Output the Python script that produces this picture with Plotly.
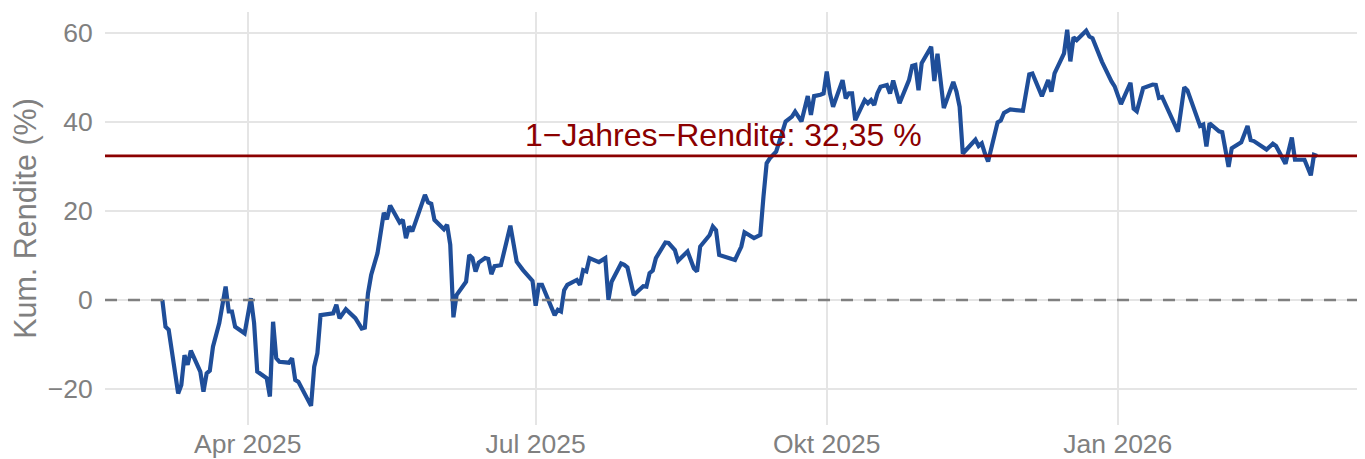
import plotly.graph_objects as go

# ---- data ----
dates = [
    "2025-03-05","2025-03-06","2025-03-07","2025-03-10","2025-03-11","2025-03-12","2025-03-13","2025-03-14",
    "2025-03-17","2025-03-18","2025-03-19","2025-03-20","2025-03-21","2025-03-23","2025-03-25","2025-03-26",
    "2025-03-27","2025-03-28","2025-03-31",
    "2025-04-01","2025-04-02","2025-04-03","2025-04-04","2025-04-07","2025-04-08","2025-04-09","2025-04-10",
    "2025-04-11","2025-04-14","2025-04-15","2025-04-16","2025-04-17","2025-04-21","2025-04-22","2025-04-23",
    "2025-04-24","2025-04-27","2025-04-28","2025-04-29","2025-04-30",
    "2025-05-02","2025-05-05","2025-05-07","2025-05-08","2025-05-09","2025-05-10","2025-05-12","2025-05-14",
    "2025-05-15","2025-05-16","2025-05-19","2025-05-20","2025-05-21","2025-05-22","2025-05-23","2025-05-27",
    "2025-05-28","2025-05-29","2025-05-30",
    "2025-06-02","2025-06-03","2025-06-04","2025-06-05","2025-06-06","2025-06-09","2025-06-10","2025-06-11",
    "2025-06-12","2025-06-13","2025-06-15","2025-06-16","2025-06-17","2025-06-18","2025-06-20","2025-06-23",
    "2025-06-25","2025-06-27","2025-06-30",
    "2025-07-01","2025-07-02","2025-07-03","2025-07-05","2025-07-07","2025-07-08","2025-07-09","2025-07-10",
    "2025-07-11","2025-07-14","2025-07-15","2025-07-16","2025-07-17","2025-07-18","2025-07-21","2025-07-23",
    "2025-07-24","2025-07-25","2025-07-28","2025-07-29","2025-07-30",
    "2025-08-01","2025-08-04","2025-08-05","2025-08-06","2025-08-07","2025-08-08","2025-08-11","2025-08-12",
    "2025-08-14","2025-08-15","2025-08-18","2025-08-20","2025-08-21","2025-08-22","2025-08-25","2025-08-26",
    "2025-08-27","2025-08-28",
    "2025-09-01","2025-09-02","2025-09-04","2025-09-05","2025-09-08","2025-09-10","2025-09-11","2025-09-12",
    "2025-09-13","2025-09-15","2025-09-16","2025-09-17","2025-09-18","2025-09-20","2025-09-21","2025-09-23",
    "2025-09-24","2025-09-25","2025-09-26","2025-09-27","2025-09-29","2025-09-30",
    "2025-10-01","2025-10-02","2025-10-03","2025-10-06","2025-10-07","2025-10-08","2025-10-09","2025-10-10",
    "2025-10-13","2025-10-14","2025-10-15","2025-10-16","2025-10-17","2025-10-18","2025-10-20","2025-10-21",
    "2025-10-22","2025-10-24","2025-10-27","2025-10-28","2025-10-29","2025-10-30","2025-10-31",
    "2025-11-03","2025-11-04","2025-11-05","2025-11-07","2025-11-10","2025-11-11","2025-11-12","2025-11-13",
    "2025-11-15","2025-11-17","2025-11-18","2025-11-19","2025-11-20","2025-11-21","2025-11-24","2025-11-25",
    "2025-11-26","2025-11-28",
    "2025-12-02","2025-12-03","2025-12-04","2025-12-05","2025-12-08","2025-12-10","2025-12-11","2025-12-12",
    "2025-12-15","2025-12-16","2025-12-17","2025-12-18","2025-12-19","2025-12-22","2025-12-23","2025-12-24",
    "2025-12-27","2025-12-30","2025-12-31",
    "2026-01-02","2026-01-05","2026-01-06","2026-01-07","2026-01-09","2026-01-12","2026-01-13","2026-01-14",
    "2026-01-15","2026-01-20","2026-01-22","2026-01-23","2026-01-27","2026-01-28","2026-01-29","2026-01-30",
    "2026-02-02","2026-02-03","2026-02-05","2026-02-06","2026-02-09","2026-02-11","2026-02-12","2026-02-13",
    "2026-02-17","2026-02-19","2026-02-20","2026-02-23","2026-02-25","2026-02-26",
    "2026-03-01","2026-03-03","2026-03-04","2026-03-05",
]
cum_return = [
    0.0, -6.0, -6.7, -21.0, -19.1, -12.4, -14.6, -11.4,
    -16.1, -20.6, -16.5, -15.9, -10.5, -5.2, 3.0, -2.6,
    -2.6, -6.0, -7.5,
    -3.7, 0.4, -5.2, -16.1, -17.6, -21.7, -4.9, -13.1,
    -13.9, -14.1, -13.1, -18.0, -18.4, -23.8, -15.0, -12.0,
    -3.4, -3.2, -3.0, -1.1, -4.1,
    -2.1, -4.1, -6.4, -6.2, 1.5, 5.6, 10.5, 19.6,
    18.1, 21.2, 17.4, 18.0, 13.9, 16.5, 15.4, 23.6,
    21.9, 21.6, 18.0,
    15.9, 16.9, 12.4, -3.9, 1.1, 4.1, 10.1, 9.4,
    6.4, 8.4, 9.4, 9.2, 5.8, 7.6, 7.8, 16.7,
    8.6, 6.7, 4.3,
    -1.3, 3.4, 3.4, 0.0, -3.4, -2.2, -2.6, 2.2,
    3.4, 4.5, 3.4, 6.7, 6.4, 9.4, 8.5, 9.4,
    0.0, 4.1, 8.2, 7.9, 7.3,
    1.1, 3.1, 3.0, 6.0, 6.6, 9.4, 12.9, 12.8,
    11.2, 8.8, 10.9, 7.1, 6.4, 12.0, 14.6, 16.5,
    15.7, 10.1,
    9.2, 9.0, 12.0, 15.2, 13.9, 14.6, 23.2, 30.7,
    31.8, 33.3, 35.5, 38.0, 40.1, 41.2, 42.3, 40.1,
    42.7, 45.8, 41.6, 45.8, 46.1, 46.4,
    51.3, 46.4, 43.4, 49.4, 45.3, 46.4, 46.4, 40.4,
    44.9, 44.2, 44.9, 43.8, 46.4, 47.9, 48.3, 46.4,
    49.3, 44.2, 49.4, 52.6, 52.8, 47.1, 53.2,
    56.9, 49.2, 55.3, 43.1, 49.0, 46.8, 43.4, 32.9,
    34.6, 36.0, 34.6, 35.2, 32.9, 31.1, 39.9, 40.3,
    42.0, 42.8,
    42.5, 47.2, 50.7, 50.9, 45.8, 49.4, 46.8, 50.9,
    55.4, 60.7, 53.6, 59.0, 58.4, 60.5, 59.2, 58.8,
    53.5, 49.1, 48.0,
    44.0, 48.8, 43.0, 42.4, 47.6, 48.4, 48.3, 45.4,
    45.6, 37.8, 47.8, 47.1, 39.1, 39.4, 34.5, 39.7,
    37.9, 37.7, 29.9, 34.1, 35.4, 39.1, 35.9, 35.7,
    33.8, 35.1, 34.6, 30.6, 36.5, 31.5,
    31.5, 28.0, 32.6, 32.35,
]
one_year_return = 32.35
annotation_text = "1\u2212Jahres\u2212Rendite: 32,35 %"
annotation_date = "2025-08-29 12:00"
x_tick_vals = ["2025-04-01", "2025-07-01", "2025-10-01", "2026-01-01"]
x_tick_text = ["Apr 2025", "Jul 2025", "Okt 2025", "Jan 2026"]
y_tick_vals = [-20, 0, 20, 40, 60]
x_range = ["2025-02-14 21:00", "2026-03-20 03:00"]
y_range = [-28.1, 64.7]

BLUE = "#1F4E99"
DARKRED = "#8B0000"
GRID = "#E5E5E5"
TXT = "#808080"
FONT = "Liberation Sans, Arial, sans-serif"

fig = go.Figure()
fig.add_trace(go.Scatter(
    x=dates, y=cum_return, mode="lines",
    line=dict(color=BLUE, width=4.2), hoverinfo="skip", showlegend=False,
))

fig.add_hline(y=0, line=dict(color="#808080", width=2.6, dash="12px,11px"), layer="above")
fig.add_hline(y=one_year_return, line=dict(color=DARKRED, width=2.8), layer="above")

fig.add_annotation(
    x=annotation_date, y=one_year_return, text=annotation_text,
    showarrow=False, xanchor="center", yanchor="bottom", yshift=1,
    font=dict(family=FONT, size=32, color=DARKRED),
)

# the page adds an 8px body margin, so the figure is sized and padded to compensate
fig.update_layout(
    width=1357, height=451,
    margin=dict(l=97, r=0, t=4, b=34),
    paper_bgcolor="white", plot_bgcolor="white",
    font=dict(family=FONT, color=TXT),
    showlegend=False,
)
fig.update_xaxes(
    range=x_range, tickmode="array", tickvals=x_tick_vals, ticktext=x_tick_text,
    showgrid=True, gridcolor=GRID, gridwidth=1.6, zeroline=False, showline=False,
    ticks="", tickfont=dict(family=FONT, size=26.5, color=TXT),
)
fig.update_yaxes(
    range=y_range, tickmode="array", tickvals=y_tick_vals,
    showgrid=True, gridcolor=GRID, gridwidth=1.6, zeroline=False, showline=False,
    ticks="outside", ticklen=6, tickcolor="rgba(0,0,0,0)",
    tickfont=dict(family=FONT, size=26.5, color=TXT),
    title=dict(text="Kum. Rendite (%)", font=dict(family=FONT, size=30.5, color=TXT), standoff=6),
)

fig.write_html("out.html")
